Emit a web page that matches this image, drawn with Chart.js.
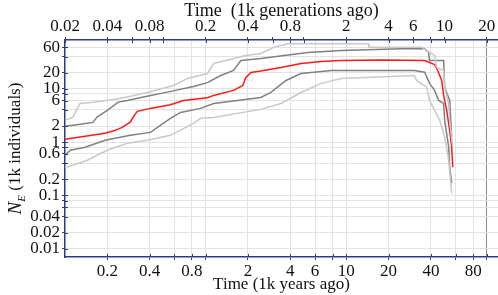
<!DOCTYPE html>
<html>
<head>
<meta charset="utf-8">
<script src="https://cdn.jsdelivr.net/npm/chart.js@4/dist/chart.umd.min.js"></script>
<style>
  body { margin: 0; background: #fff; }
</style>
</head>
<body>
<canvas id="myChart" width="498" height="295"></canvas>
<script>
//==================DATA===============
// time in 1k years ago, Ne in 1k individuals
const medianTime = [0.1, 0.193, 0.228, 0.255, 0.291, 0.311, 0.327, 0.405, 0.562, 0.696, 1.03, 1.14, 1.58, 1.84, 1.93, 2.1, 2.47, 3.43, 4.77, 6.63, 9.21, 17.8, 36.1, 39.1, 42.5, 44.7, 47.7, 49.3, 51.8, 54.4, 56.2, 57.2];
const medianNe   = [1.13, 1.46, 1.66, 1.89, 2.36, 3.17, 3.76, 4.28, 5.02, 6.04, 6.79, 7.5, 9.3, 11.5, 16.3, 20.2, 21.5, 25, 29.7, 32.4, 33.8, 34.5, 33.8, 31, 28.5, 22, 14.3, 7.5, 3.93, 1.66, 0.81, 0.34];

const innerUpperTime = [0.1, 0.128, 0.158, 0.169, 0.2, 0.239, 0.277, 0.361, 0.535, 0.82, 1.03, 1.28, 1.58, 1.78, 2.47, 3.61, 5.35, 9.21, 24.7, 36.1, 38.5, 39.1, 49.3, 50.1, 54.4, 56.2];
const innerUpperNe   = [1.97, 2.15, 2.34, 2.94, 3.93, 5.62, 6.04, 6.97, 8.64, 11, 13, 17.7, 22, 33.8, 36.8, 41.9, 47.7, 52, 56, 56, 48.3, 33.8, 33.8, 10.7, 6.04, 1.25];

const outerUpperTime = [0.1, 0.114, 0.128, 0.158, 0.21, 0.277, 0.385, 0.591, 0.744, 1.03, 1.14, 1.93, 2.47, 3.06, 3.85, 14.4, 14.5, 34.3, 40.5, 42.5, 43.9, 49.3, 50.1, 53.5, 54.4, 57.2];
const outerUpperNe   = [2.55, 2.94, 5.31, 5.6, 6.18, 7, 8.53, 11.5, 15.6, 19.3, 29.7, 41.9, 45.7, 60, 70, 70, 60, 60, 45.7, 41.9, 25.3, 22, 10.7, 5.31, 2.55, 0.81];

const innerLowerTime = [0.1, 0.109, 0.139, 0.193, 0.291, 0.405, 0.562, 0.663, 0.921, 1.14, 2.47, 2.91, 3.73, 4.77, 7.81, 30.6, 36.1, 39.1, 42.5, 45.4, 49.3, 50.1, 53.5, 54.4, 56.2];
const innerLowerNe   = [0.567, 0.703, 0.8, 1.08, 1.34, 1.52, 2.79, 3.6, 4.28, 5.3, 6.88, 8.53, 14.3, 19.3, 22, 22, 20.4, 12.6, 9.3, 6.04, 5.31, 2.55, 0.81, 0.338, 0.17];

const outerLowerTime = [0.1, 0.114, 0.144, 0.169, 0.2, 0.277, 0.385, 0.562, 0.82, 0.921, 1.14, 2.47, 3.43, 4.77, 6.63, 9.21, 30.6, 31.6, 37.3, 39.1, 42.5, 46.2, 50.1, 53.5, 56.2];
const outerLowerNe   = [0.338, 0.368, 0.457, 0.567, 0.703, 0.95, 1.08, 1.34, 2.24, 2.79, 2.9, 4.1, 5.3, 8.5, 12.6, 15.6, 17.7, 14.3, 10.7, 6.04, 3.93, 2.55, 1.25, 0.457, 0.11];

// tick marks and which of them carry a label
const yearTicks  = [0.2, 0.4, 0.6, 0.8, 1, 2, 4, 6, 8, 10, 20, 40, 60, 80, 100];
const yearLabels = [0.2, 0.4, 0.8, 2, 4, 6, 10, 20, 40, 80];
const genTicks   = [0.02, 0.04, 0.06, 0.08, 0.1, 0.2, 0.4, 0.6, 0.8, 1, 2, 4, 6, 8, 10, 20];
const genLabels  = [0.02, 0.04, 0.08, 0.2, 0.4, 0.8, 2, 4, 6, 10, 20];
const neTicks    = [0.01, 0.02, 0.04, 0.06, 0.08, 0.1, 0.2, 0.4, 0.6, 0.8, 1, 2, 4, 6, 8, 10, 20, 40, 60];
const neLabels   = [0.01, 0.02, 0.04, 0.1, 0.2, 0.6, 1, 2, 6, 10, 20, 60];

const yearsPerGen = 5;

//==================CHART===============
const axisBlue = '#2c3b86';
const serif = "'Liberation Serif', 'Times New Roman', serif";

function pts(xs, ys) {
	return xs.map((x, i) => ({x: x, y: ys[i]}));
}

function setTicks(list) {
	return scale => { scale.ticks = list.map(v => ({value: v})); };
}

function labelFrom(list) {
	return value => list.some(l => Math.abs(l - value) / l < 1e-6) ? String(value) : '';
}

// short ticks pointing into the plot + the y title with subscript
const extras = {
	id: 'extras',
	afterDraw(chart) {
		const {ctx, chartArea, scales} = chart;
		ctx.save();
		ctx.strokeStyle = axisBlue;
		ctx.lineWidth = 1;
		ctx.beginPath();
		scales.x.ticks.forEach(t => {
			const p = Math.round(scales.x.getPixelForValue(t.value)) + 0.5;
			ctx.moveTo(p, chartArea.bottom);
			ctx.lineTo(p, chartArea.bottom - 3);
		});
		scales.x2.ticks.forEach(t => {
			const p = Math.round(scales.x2.getPixelForValue(t.value)) + 0.5;
			ctx.moveTo(p, chartArea.top);
			ctx.lineTo(p, chartArea.top + 3);
		});
		scales.y.ticks.forEach(t => {
			const p = Math.round(scales.y.getPixelForValue(t.value)) + 0.5;
			ctx.moveTo(chartArea.left, p);
			ctx.lineTo(chartArea.left + 3, p);
		});
		ctx.stroke();

		// y title: N_E (1k individuals)
		const fN = 'italic 19px ' + serif;
		const fE = 'italic 11px ' + serif;
		const fRest = '17px ' + serif;
		const rest = ' (1k individuals)';
		ctx.font = fN; const wN = ctx.measureText('N').width;
		ctx.font = fE; const wE = ctx.measureText('E').width;
		ctx.font = fRest; const wR = ctx.measureText(rest).width;
		const total = wN + wE + wR;
		ctx.translate(16, (chartArea.top + chartArea.bottom) / 2);
		ctx.rotate(-Math.PI / 2);
		ctx.fillStyle = '#111';
		ctx.textBaseline = 'middle';
		ctx.textAlign = 'left';
		let x0 = -total / 2;
		ctx.font = fN; ctx.fillText('N', x0, 0); x0 += wN;
		ctx.font = fE; ctx.fillText('E', x0, 6); x0 += wE;
		ctx.font = fRest; ctx.fillText(rest, x0, 0);
		ctx.restore();
	}
};

const myChart = document.getElementById('myChart');

let neChart = new Chart(myChart, {
	type: 'line',
	data: {
		datasets: [
			{data: pts(outerUpperTime, outerUpperNe), borderColor: '#c9c9c9'},
			{data: pts(outerLowerTime, outerLowerNe), borderColor: '#c9c9c9'},
			{data: pts(innerUpperTime, innerUpperNe), borderColor: '#808080'},
			{data: pts(innerLowerTime, innerLowerNe), borderColor: '#808080'},
			{data: pts(medianTime, medianNe), borderColor: '#ff1a1a'}
		].map(d => Object.assign(d, {borderWidth: 1.5, pointRadius: 0, tension: 0, fill: false}))
	},
	options: {
		responsive: false,
		animation: false,
		devicePixelRatio: 1,
		layout: {padding: 0},
		plugins: {legend: {display: false}, tooltip: {enabled: false}},
		scales: {
			x: {
				type: 'logarithmic',
				position: 'bottom',
				min: 0.1,
				max: 120,
				bounds: 'data',
				afterBuildTicks: setTicks(yearTicks),
				afterFit: s => { s.height = 38; },
				ticks: {
					autoSkip: false, maxRotation: 0, padding: 1,
					color: '#111', font: {family: serif, size: 17},
					callback: labelFrom(yearLabels)
				},
				grid: {
					color: ctx => ctx.tick && ctx.tick.value === 100 ? '#8a8a8a' : '#e3e3e3',
					tickColor: axisBlue, tickLength: 3
				},
				border: {color: axisBlue, width: 1.5},
				title: {display: true, text: 'Time (1k years ago)', color: '#111', font: {family: serif, size: 17}, padding: 0}
			},
			x2: {
				type: 'logarithmic',
				position: 'top',
				min: 0.1 / yearsPerGen,
				max: 120 / yearsPerGen,
				bounds: 'data',
				afterBuildTicks: setTicks(genTicks),
				afterFit: s => { s.height = 40; },
				ticks: {
					autoSkip: false, maxRotation: 0, padding: 0,
					color: '#111', font: {family: serif, size: 17},
					callback: labelFrom(genLabels)
				},
				grid: {drawOnChartArea: false, tickColor: axisBlue, tickLength: 3},
				border: {color: axisBlue, width: 1.5},
				title: {display: true, text: 'Time  (1k generations ago)', color: '#111', font: {family: serif, size: 18}, padding: 0}
			},
			y: {
				type: 'logarithmic',
				min: 0.007,
				max: 82,
				bounds: 'data',
				afterBuildTicks: setTicks(neTicks),
				afterFit: s => { s.width = 65; },
				ticks: {
					autoSkip: false, padding: 2,
					color: '#111', font: {family: serif, size: 17},
					callback: labelFrom(neLabels)
				},
				grid: {color: '#e3e3e3', tickColor: axisBlue, tickLength: 3},
				border: {color: axisBlue, width: 1.5}
			}
		}
	},
	plugins: [extras]
});
</script>
</body>
</html>
